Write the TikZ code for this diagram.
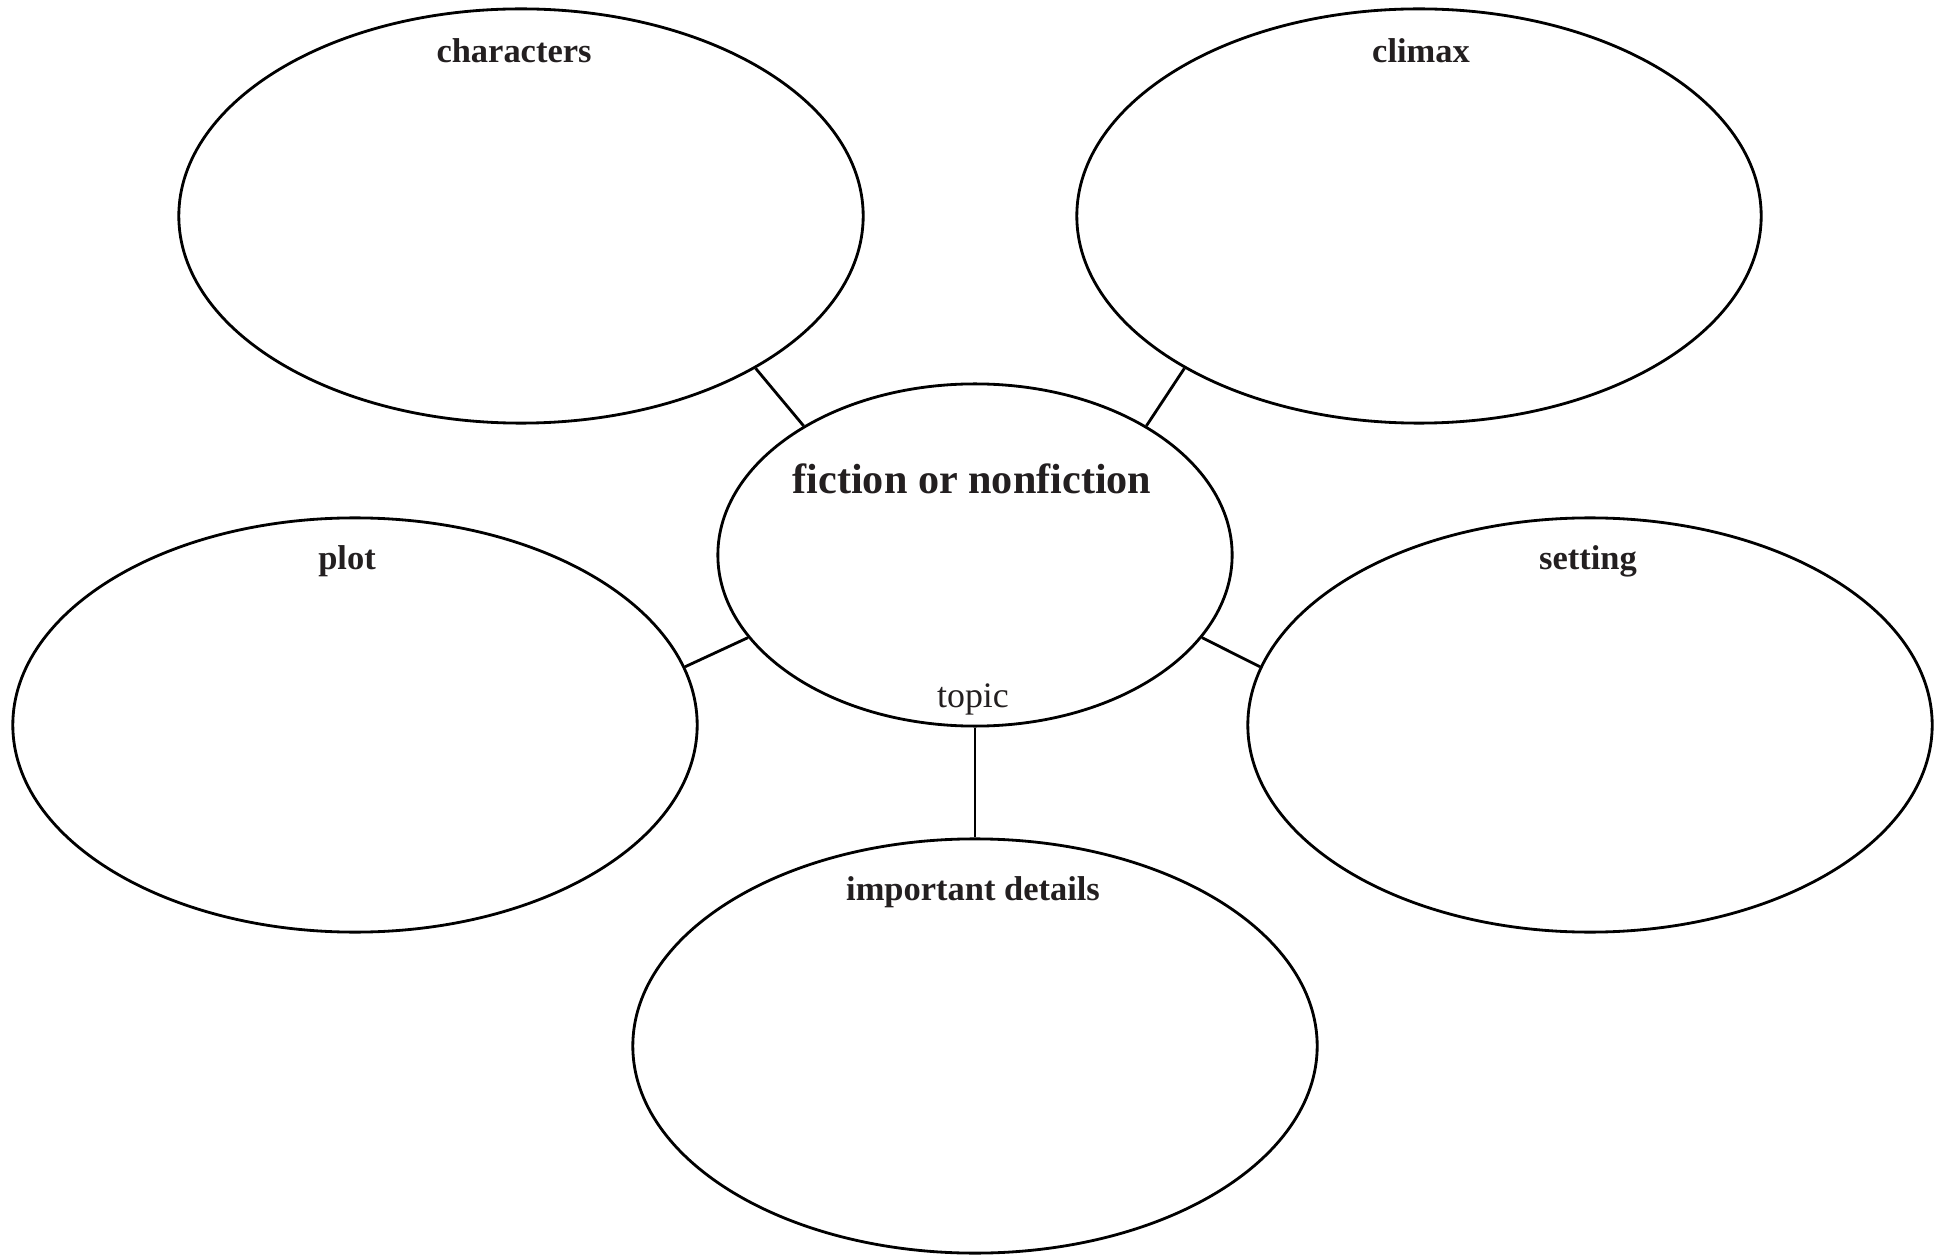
\documentclass[tikz,border=0pt]{standalone}
\usepackage{fontspec}
\setmainfont{Liberation Serif}
\usetikzlibrary{shapes.geometric}
\definecolor{ink}{HTML}{231F20}

\begin{document}
\begin{tikzpicture}[x=0.01cm,y=-0.01cm,
  bubble/.style={draw=black,line width=0.8pt,ellipse,inner sep=0pt,
    minimum width=6.84cm,minimum height=4.14cm},
  hub/.style={bubble,minimum width=5.14cm,minimum height=3.42cm},
  heading/.style={text=ink,anchor=base,inner sep=0pt,font=\bfseries\fontsize{9.8}{12}\selectfont},
  spoke/.style={draw=black,line width=0.8pt}]
\useasboundingbox (0,0) rectangle (1942,1255);
% ellipses
\node[hub] (topic) at (975,555) {};
\node[bubble] (characters) at (521,216) {};
\node[bubble] (climax) at (1419,216) {};
\node[bubble] (plot) at (355,725) {};
\node[bubble] (setting) at (1590,725) {};
\node[bubble] (details) at (975,1046) {};
% labels
\node[heading,font=\bfseries\fontsize{12}{14}\selectfont] (fictionlbl) at (972,494) {fiction or nonfiction};
\node[text=ink,anchor=base,inner sep=0pt,font=\fontsize{10.2}{12}\selectfont] (topiclbl) at (973,707) {topic};
\node[heading] (characterslbl) at (514,63) {characters};
\node[heading] (climaxlbl) at (1421,63) {climax};
\node[heading] (plotlbl) at (347,570) {plot};
\node[heading] (settinglbl) at (1588,570) {setting};
\node[heading] (detailslbl) at (973,900) {important details};
% spokes
\draw[spoke] (topic.143) -- (characters.327);
\draw[spoke] (topic.37) -- (climax.213);
\draw[spoke] (topic.200) -- (plot.10);
\draw[spoke] (topic.340) -- (setting.170);
\draw[spoke] (topic.south) -- (details.north);
\end{tikzpicture}
\end{document}
